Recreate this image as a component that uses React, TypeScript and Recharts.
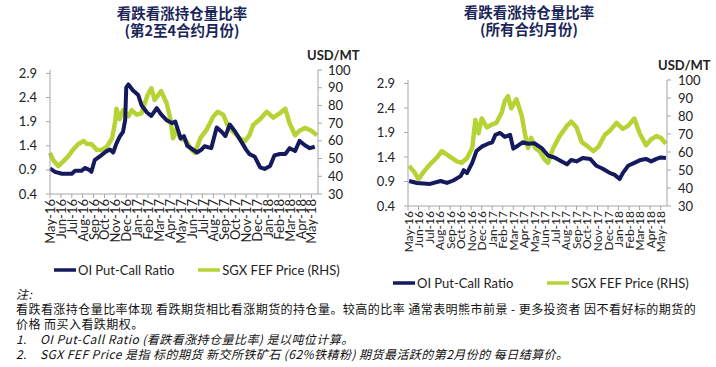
import React from 'react';
import { LineChart, Line, XAxis, YAxis, Legend } from 'recharts';

// ---------- categories / ticks ----------
const months = [
  'May-16', 'Jun-16', 'Jul-16', 'Aug-16', 'Sep-16', 'Oct-16', 'Nov-16', 'Dec-16',
  'Jan-17', 'Feb-17', 'Mar-17', 'Apr-17', 'May-17', 'Jun-17', 'Jul-17', 'Aug-17',
  'Sep-17', 'Oct-17', 'Nov-17', 'Dec-17', 'Jan-18', 'Feb-18', 'Mar-18', 'Apr-18', 'May-18',
];
const monthTicks = months.map((_, i) => i);
const ratioTicks = [0.4, 0.9, 1.4, 1.9, 2.4, 2.9];
const priceTicks = [30, 40, 50, 60, 70, 80, 90, 100];

// ---------- left panel: 2nd-4th contract months ----------
// time in months since May-16
const pcr24Time = [0, 0.46, 1.1, 2.0, 2.3, 2.9, 3.2, 3.6, 3.8, 4.1, 4.7, 5.2, 5.5, 5.8, 6.1, 6.4, 6.7, 6.9, 7.0, 7.2, 7.6, 8.1, 8.4, 8.9, 9.3, 9.8, 10.2, 10.7, 11.2, 11.5, 11.8, 12.0, 12.3, 12.6, 13.5, 13.9, 14.2, 14.8, 15.3, 15.75, 16.1, 16.5, 17.0, 17.6, 18.0, 18.3, 18.8, 19.3, 19.7, 20.2, 20.6, 21.1, 21.6, 22.0, 22.5, 22.9, 23.4, 23.85, 24.3];
const pcr24Value = [0.93, 0.86, 0.82, 0.82, 0.88, 0.88, 0.94, 0.9, 0.86, 1.1, 1.2, 1.29, 1.32, 1.26, 1.45, 1.59, 1.69, 1.93, 2.61, 2.67, 2.55, 2.45, 2.24, 2.09, 2.02, 2.18, 2.05, 1.93, 1.87, 1.9, 1.69, 1.55, 1.6, 1.4, 1.26, 1.32, 1.39, 1.35, 1.78, 1.69, 1.6, 1.84, 1.69, 1.47, 1.32, 1.23, 1.17, 0.95, 0.92, 0.98, 1.2, 1.23, 1.23, 1.35, 1.29, 1.5, 1.41, 1.35, 1.38];
const fef24Time = [0, 0.3, 0.76, 1.2, 1.7, 2.1, 2.6, 3.1, 3.4, 3.8, 4.3, 4.7, 5.2, 5.7, 6.0, 6.1, 6.4, 6.7, 7.2, 7.5, 7.95, 8.4, 8.7, 9.0, 9.3, 9.6, 10.2, 10.7, 11.0, 11.3, 11.6, 11.9, 12.1, 12.5, 13.0, 13.3, 13.8, 14.4, 15.0, 15.4, 15.9, 16.4, 17.0, 17.4, 17.9, 18.3, 18.65, 19.3, 19.9, 20.5, 21.1, 21.6, 22.0, 22.5, 22.9, 23.4, 24.0, 24.5];
const fef24Value = [53.2, 49.1, 45.8, 48.3, 51.5, 54.9, 58.2, 59.9, 58.2, 58.2, 54.9, 54.9, 56.5, 61.5, 71.4, 78.1, 72.3, 77.3, 73.9, 77.3, 74.8, 75.6, 81.4, 86.4, 89.7, 83.1, 88.1, 81.4, 73.9, 61.5, 66.5, 62.3, 61, 59.9, 54.9, 53.2, 61.5, 66.5, 73.9, 76.4, 74.8, 67.3, 64.0, 61.5, 59.9, 63.2, 69.0, 72.3, 76.4, 73.1, 75.6, 78.1, 69.8, 63.2, 65.7, 67.3, 65.7, 63.2];

// ---------- right panel: all contract months ----------
const pcrAllTime = [0.1, 0.85, 2.1, 3.1, 3.7, 4.3, 5.0, 5.3, 5.6, 6.1, 6.5, 7.0, 7.6, 8.0, 8.3, 8.75, 9.2, 9.7, 10.0, 10.5, 10.9, 11.4, 12.0, 12.7, 13.3, 14.0, 14.6, 15.1, 15.5, 16.0, 16.6, 17.3, 17.9, 18.5, 19.2, 19.6, 20.1, 20.4, 20.9, 21.5, 22.1, 22.6, 23.1, 23.6, 24.0, 24.5];
const pcrAllValue = [0.91, 0.87, 0.85, 0.91, 0.87, 0.92, 1.01, 1.13, 1.07, 1.28, 1.52, 1.61, 1.67, 1.7, 1.85, 1.89, 1.81, 1.85, 1.57, 1.64, 1.7, 1.67, 1.68, 1.58, 1.43, 1.38, 1.31, 1.25, 1.34, 1.31, 1.38, 1.36, 1.22, 1.16, 1.07, 1.04, 0.95, 1.07, 1.22, 1.28, 1.34, 1.36, 1.31, 1.36, 1.39, 1.38];
const fefAllTime = [0.1, 0.57, 1.0, 1.5, 2.1, 2.8, 3.2, 3.6, 4.0, 4.65, 5.1, 5.6, 6.1, 6.4, 6.7, 7.0, 7.5, 8.0, 8.4, 8.9, 9.2, 9.5, 9.8, 10.3, 10.8, 11.1, 11.4, 11.7, 12.1, 12.5, 13.0, 13.3, 13.8, 14.4, 15.1, 15.5, 16.0, 16.5, 17.1, 17.6, 18.1, 18.7, 19.2, 19.8, 20.4, 20.9, 21.5, 22.0, 22.6, 23.1, 23.6, 24.0, 24.5];
const fefAllValue = [52.3, 49.1, 44.9, 49.1, 53.2, 57.3, 60.5, 58.9, 57.3, 54.8, 54.0, 56.5, 62.2, 77.8, 70.4, 78.6, 73.7, 75.3, 76.2, 81.9, 88.5, 91.0, 84.3, 89.3, 80.2, 70.4, 62.2, 67.9, 62, 60.5, 55.6, 54.0, 62.2, 68.8, 74.5, 76.9, 73.7, 65.5, 63.0, 60.5, 63.0, 69.6, 72.0, 76.2, 72.9, 74.5, 78.6, 70.4, 63.8, 67.1, 68.8, 67.9, 64.6];

const seriesNames = ['OI Put-Call Ratio', 'SGX FEF Price (RHS)'];
const NAVY = '#151a5e';
const GREEN = '#b5d334';
const AXIS = '#a6a6a6';
const TXT = '#222';
const FONT = 'Lato, "Noto Sans", sans-serif';
const CJK = '"Noto Sans CJK SC", sans-serif';

const rows = (t: number[], v: number[]) => t.map((x, i) => ({ t: x, v: v[i] }));

const XTick = (props: any) => {
  const { x, y, payload, fontSize } = props;
  return (
    <text x={x} y={y} transform={`rotate(-90 ${x} ${y})`} textAnchor="end" dominantBaseline="central"
      fontSize={fontSize} fill={TXT} fontFamily={FONT}>
      {months[payload.value]}
    </text>
  );
};

const LegendContent = (props: any) => {
  const { gap } = props;
  const items = [
    { name: seriesNames[0], color: NAVY },
    { name: seriesNames[1], color: GREEN },
  ];
  return (
    <div style={{ display: 'flex', alignItems: 'center', fontFamily: FONT, fontSize: 13, color: TXT, whiteSpace: 'nowrap' }}>
      {items.map((it, i) => (
        <div key={it.name} style={{ display: 'flex', alignItems: 'center', marginRight: i === 0 ? gap : 0 }}>
          <svg width={22} height={6} style={{ marginRight: 2 }}>
            <line x1={0} y1={3} x2={22} y2={3} stroke={it.color} strokeWidth={3.5} />
          </svg>
          <span>{it.name}</span>
        </div>
      ))}
    </div>
  );
};

type PanelProps = {
  pcr: { t: number; v: number }[];
  fef: { t: number; v: number }[];
  width: number;
  height: number;
  top: number;
  plotH: number;
  rightMargin: number;
  xFont: number;
  legendLeft: number;
  legendTop: number;
  legendGap: number;
  leftTickMargin: number;
  rightTickMargin: number;
};

const Panel = (p: PanelProps) => (
  <LineChart width={p.width} height={p.height}
    margin={{ top: p.top, right: p.rightMargin, left: 0, bottom: p.height - p.top - p.plotH - 50 }}>
    <XAxis type="number" dataKey="t" domain={[0, 24.6]} ticks={monthTicks} interval={0}
      allowDuplicatedCategory={false} height={50} stroke={AXIS} tickSize={4} tickMargin={1}
      tick={<XTick fontSize={p.xFont} />} />
    <YAxis yAxisId="left" domain={[0.4, 2.97]} ticks={ratioTicks} interval={0} width={50} stroke={AXIS}
      tickSize={4} tickMargin={p.leftTickMargin} allowDataOverflow
      tick={{ fill: TXT, fontSize: 13, fontFamily: FONT }} tickFormatter={(v: number) => v.toFixed(1)} />
    <YAxis yAxisId="right" orientation="right" domain={[30, 100]} ticks={priceTicks} interval={0} width={40}
      stroke={AXIS} tickSize={4} tickMargin={p.rightTickMargin} allowDataOverflow
      tick={{ fill: TXT, fontSize: 13, fontFamily: FONT, textAnchor: 'start' }} />
    <Legend content={<LegendContent gap={p.legendGap} />}
      wrapperStyle={{ position: 'absolute', left: p.legendLeft, top: p.legendTop, width: 'auto' }} />
    <Line yAxisId="right" data={p.fef} dataKey="v" name={seriesNames[1]} type="linear" stroke={GREEN}
      strokeWidth={4.5} strokeLinejoin="round" dot={false} isAnimationActive={false} />
    <Line yAxisId="left" data={p.pcr} dataKey="v" name={seriesNames[0]} type="linear" stroke={NAVY}
      strokeWidth={4} strokeLinejoin="round" dot={false} isAnimationActive={false} />
  </LineChart>
);

const titleStyle: React.CSSProperties = {
  position: 'absolute', width: 220, textAlign: 'center', fontFamily: CJK, fontWeight: 700,
  fontSize: 14.5, lineHeight: '17px', color: '#1a2659',
};
const unitStyle: React.CSSProperties = {
  position: 'absolute', fontFamily: FONT, fontWeight: 700, fontSize: 13, lineHeight: '16px', color: TXT,
};
const noteLine: React.CSSProperties = { height: 15.2, lineHeight: '15.2px' };

export default function App() {
  return (
    <div style={{ position: 'absolute', left: 0, top: 0, width: 716, height: 367, background: '#fff', overflow: 'hidden' }}>
      <div style={{ position: 'absolute', left: 0, top: 0 }}>
        <Panel pcr={rows(pcr24Time, pcr24Value)} fef={rows(fef24Time, fef24Value)}
          width={370} height={280} top={70} plotH={140} rightMargin={12} xFont={13}
          legendLeft={54} legendTop={262} legendGap={24} leftTickMargin={9} rightTickMargin={6} />
      </div>
      <div style={{ position: 'absolute', left: 358, top: 0 }}>
        <Panel pcr={rows(pcrAllTime, pcrAllValue)} fef={rows(fefAllTime, fefAllValue)}
          width={358} height={290} top={80} plotH={142} rightMargin={9} xFont={12}
          legendLeft={35} legendTop={275} legendGap={34} leftTickMargin={9} rightTickMargin={7} />
      </div>

      <div style={{ ...titleStyle, left: 72, top: 3.5 }}>
        <div>看跌看涨持仓量比率</div>
        <div>(第2至4合约月份)</div>
      </div>
      <div style={{ ...titleStyle, left: 419, top: 2.5 }}>
        <div>看跌看涨持仓量比率</div>
        <div>(所有合约月份)</div>
      </div>
      <div style={{ ...unitStyle, left: 307, top: 47 }}>USD/MT</div>
      <div style={{ ...unitStyle, left: 658, top: 57 }}>USD/MT</div>

      <div style={{ position: 'absolute', left: 16, top: 285.5, fontFamily: CJK, fontSize: 12, letterSpacing: 0.45, color: '#111', whiteSpace: 'nowrap' }}>
        <div style={{ ...noteLine, fontStyle: 'italic' }}>注:</div>
        <div style={noteLine}>看跌看涨持仓量比率体现 看跌期货相比看涨期货的持仓量。较高的比率 通常表明熊市前景 - 更多投资者 因不看好标的期货的</div>
        <div style={noteLine}>价格 而买入看跌期权。</div>
        <div style={{ ...noteLine, fontStyle: 'italic' }}><span style={{ display: 'inline-block', width: 24 }}>1.</span>OI Put-Call Ratio (看跌看涨持仓量比率) 是以吨位计算。</div>
        <div style={{ ...noteLine, fontStyle: 'italic' }}><span style={{ display: 'inline-block', width: 24 }}>2.</span>SGX FEF Price 是指 标的期货 新交所铁矿石 (62%铁精粉) 期货最活跃的第2月份的 每日结算价。</div>
      </div>
    </div>
  );
}
